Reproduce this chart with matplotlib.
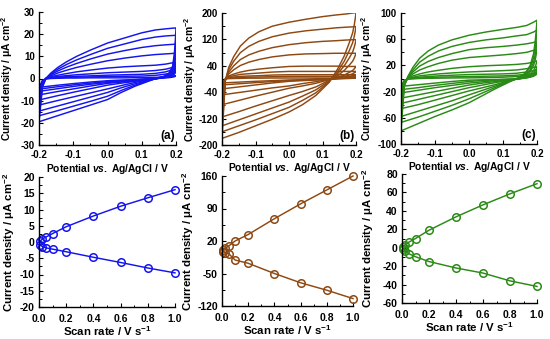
import matplotlib
matplotlib.use("Agg")
import matplotlib.pyplot as plt
import matplotlib.ticker as ticker

plt.rcParams["font.family"] = ["Liberation Sans", "DejaVu Sans"]
plt.rcParams["font.weight"] = "bold"
plt.rcParams["axes.unicode_minus"] = False
plt.rcParams["mathtext.fontset"] = "custom"
plt.rcParams["mathtext.rm"] = "Liberation Sans:bold"
plt.rcParams["mathtext.bf"] = "Liberation Sans:bold"
plt.rcParams["mathtext.it"] = "Liberation Sans:bold:italic"

# scan rates (V/s), one CV loop per rate
SCAN_RATES = [0.01, 0.025, 0.05, 0.1, 0.2, 0.4, 0.6, 0.8, 1.0]

# potentials of the forward (-0.2 -> 0.2) and reverse (0.2 -> -0.2) sweeps
E_FWD = [-0.2, -0.195, -0.19, -0.18, -0.165, -0.145, -0.12, -0.09, -0.05, 0.0,
         0.05, 0.1, 0.14, 0.17, 0.19, 0.2]
E_REV = [0.2, 0.198, 0.195, 0.19, 0.18, 0.165, 0.145, 0.12, 0.08, 0.04, 0.0,
         -0.05, -0.1, -0.15, -0.2]

# (a) CV currents, uA cm-2
CV_A_FWD = [
    [-4.0, -2.5, -0.9, -0.2, 0, 0.1, 0.2, 0.2, 0.3, 0.3, 0.3, 0.4, 0.5, 0.8, 1.1, 1.2],
    [-4.8, -3, -1, -0.1, 0.2, 0.4, 0.5, 0.6, 0.7, 0.9, 1.0, 1.1, 1.4, 2.0, 2.6, 3.0],
    [-5.8, -3.5, -1.2, 0, 0.3, 0.6, 0.8, 1.0, 1.2, 1.5, 1.7, 1.9, 2.3, 3.0, 4.0, 4.5],
    [-7.4, -4.5, -1.5, 0, 0.5, 0.9, 1.3, 1.7, 2.1, 2.6, 2.9, 3.2, 3.6, 4.2, 5.0, 5.5],
    [-9.7, -6, -2, 0, 0.8, 1.5, 2.2, 3.0, 3.8, 4.7, 5.3, 5.7, 6.0, 6.5, 7.1, 7.5],
    [-12, -7.5, -2.5, 0, 1.2, 2.5, 3.7, 5.0, 6.4, 8.0, 9.2, 10.2, 10.8, 11.1, 11.3, 11.5],
    [-14.7, -9, -3, 0, 1.7, 3.4, 5.1, 6.8, 8.8, 11, 12.6, 14.0, 14.8, 15.2, 15.4, 15.5],
    [-16.8, -10.5, -3.5, 0, 2.1, 4.2, 6.3, 8.4, 10.8, 13.6, 15.6, 17.6, 18.7, 19.2, 19.4, 19.5],
    [-19.5, -12, -4, 0, 2.5, 5, 7.5, 10, 12.8, 16, 18.3, 20.6, 21.9, 22.4, 22.7, 22.8],
]
CV_A_REV = [
    [1.2, 1.0, 0.8, 0.6, 0.4, 0.2, 0.0, -0.2, -0.5, -0.7, -1.0, -1.6, -2.3, -3.1, -4.0],
    [3.0, 2.5, 1.9, 1.3, 0.8, 0.4, 0.0, -0.3, -0.6, -1.0, -1.4, -2.1, -2.9, -3.8, -4.8],
    [4.5, 3.5, 2.6, 1.7, 1.0, 0.4, 0.0, -0.3, -0.8, -1.3, -1.8, -2.6, -3.6, -4.7, -5.8],
    [5.5, 4.3, 3.1, 2.0, 1.1, 0.5, 0.0, -0.4, -1.0, -1.6, -2.2, -3.4, -4.7, -6.0, -7.4],
    [7.5, 5.8, 4.1, 2.5, 1.3, 0.6, 0.0, -0.5, -1.3, -2.1, -3.0, -4.6, -6.2, -7.9, -9.7],
    [11.5, 8.5, 5.8, 3.2, 1.6, 0.7, 0.1, -0.7, -1.8, -3.2, -4.7, -6.5, -8.3, -10.1, -12.0],
    [15.5, 11.5, 7.5, 4.0, 1.9, 0.8, 0.1, -0.9, -2.4, -4.2, -6.3, -8.4, -10.5, -12.6, -14.7],
    [19.5, 14.5, 9.5, 4.8, 2.2, 0.9, 0.2, -1.0, -3.0, -5.4, -8.0, -10.3, -12.5, -14.7, -16.8],
    [22.8, 17, 11, 5.5, 2.5, 1.0, 0.2, -1.2, -3.5, -6.3, -9.5, -12.0, -14.5, -17, -19.5],
]

# (b) CV currents
CV_B_FWD = [
    [-12, -6, 0, 1, 1.5, 2, 2.5, 2.5, 3, 3, 3, 3, 3, 3, 3, 3],
    [-18, -9, 1, 3, 4, 5, 5.5, 6, 7, 8, 8, 8, 8, 8, 7.5, 7.5],
    [-30, -15, 1, 4, 6, 8, 9, 10, 12, 13, 13, 13, 13, 13, 13, 13],
    [-48, -25, 0, 6, 10, 14, 16, 18, 21, 23, 23, 23, 23, 23, 23, 23],
    [-78, -40, -1, 9, 15, 21, 26, 30, 34, 38, 39, 39, 39, 38, 38, 38],
    [-115, -55, -2, 15, 28, 41, 51, 59, 67, 73, 76, 77, 78, 78, 78, 78],
    [-142, -70, -3, 21, 40, 59, 73, 84, 95, 104, 110, 114, 116, 118, 119, 119],
    [-160, -80, -4, 28, 54, 80, 99, 114, 128, 139, 146, 151, 155, 157, 158, 159],
    [-180, -90, -5, 35, 68, 100, 124, 143, 160, 172, 181, 189, 194, 197, 200, 201],
]
CV_B_REV = [
    [3, 2.8, 2.6, 2.2, 1.6, 1, 0.4, -1, -1.5, -2.2, -3, -5, -7, -9.5, -12],
    [7.5, 7, 6.5, 5.5, 4, 2.5, 1, -1, -2, -3.5, -5, -8, -11, -14.5, -18],
    [13, 12, 11, 9, 7, 4, 2, -1, -3, -5, -7, -12, -18, -24, -30],
    [23, 21, 19, 16, 12, 7, 3, -1, -8, -14, -21, -27, -34, -41, -48],
    [38, 35, 31, 26, 20, 12, 5, -2, -13, -21, -28, -40, -52, -65, -78],
    [78, 72, 64, 54, 42, 26, 10, -4, -24, -38, -50, -66, -82, -99, -115],
    [119, 109, 97, 82, 64, 40, 16, -6, -33, -52, -70, -88, -106, -124, -142],
    [159, 146, 130, 110, 86, 54, 22, -8, -42, -65, -86, -105, -124, -142, -160],
    [201, 185, 165, 140, 110, 70, 30, -10, -50, -78, -100, -122, -142, -162, -180],
]

# (c) CV currents
CV_C_FWD = [
    [-12, -7, -2.5, -1, -0.5, 0, 0.3, 0.5, 0.8, 1, 1.3, 2, 3, 4.5, 6, 7],
    [-17, -10, -3, -1, 0, 0.7, 1.3, 2, 2.5, 3, 3.5, 4, 5, 6.5, 8, 9],
    [-22, -13, -4, -0.5, 1, 2, 3, 4, 5, 6, 6.5, 7, 8, 10, 12, 13],
    [-30, -17, -5, 0, 2, 4, 5.5, 7, 8.5, 10, 11, 12, 13, 15, 17, 18],
    [-38, -22, -7, 0, 4, 7, 10, 12.5, 15.5, 18, 19.5, 20.5, 21.5, 23, 25, 27],
    [-46, -27, -8, 1, 7, 13, 18, 23, 28, 32, 34, 36, 38, 40, 43, 45],
    [-58, -33, -9, 1.5, 10, 19, 26, 32, 38, 44, 47, 49, 51, 53, 55, 57],
    [-67, -38, -10, 2, 13, 25, 34, 42, 49, 55, 59, 62, 65, 67, 71, 74],
    [-80, -45, -12, 3, 17, 31, 42, 51, 59, 66, 71, 75, 78, 81, 86, 89],
]
CV_C_REV = [
    [7, 6, 5, 3.5, 2, 0.5, -0.5, -1, -1.5, -2, -2.5, -4.5, -7, -9.5, -12],
    [9, 8, 6.5, 4.5, 2.5, 0.8, -0.5, -1, -2, -3, -4.5, -7.5, -10.5, -14, -17],
    [13, 11, 9, 6, 3, 1, -0.5, -1.5, -3, -5, -7, -10.5, -14, -18, -22],
    [18, 15, 12, 8, 4, 1.5, -0.5, -2, -4.5, -7, -10, -15, -20, -25, -30],
    [27, 23, 18, 12, 6, 2, -0.5, -3, -6, -10, -14, -20, -26, -32, -38],
    [45, 38, 29, 20, 10, 4, 0, -3, -9, -14, -19, -26, -33, -40, -46],
    [57, 48, 37, 25, 13, 5, 0, -4, -11, -18, -25, -34, -42, -50, -58],
    [74, 62, 48, 32, 17, 7, 1, -4, -13, -22, -31, -41, -50, -59, -67],
    [89, 75, 58, 38, 20, 8, 1, -5, -15, -26, -37, -48, -58, -69, -80],
]

# current density vs scan rate (anodic / cathodic)
JA_OX = [0.3, 0.9, 1.5, 2.6, 4.7, 8.0, 11.0, 13.6, 16.1]
JA_RED = [-1.0, -1.4, -1.8, -2.2, -3.0, -4.7, -6.3, -8.0, -9.5]
JB_OX = [1, 4, 9, 20, 34, 68, 100, 130, 160]
JB_RED = [-3, -5, -7, -21, -28, -50, -70, -86, -104]
JC_OX = [1, 3, 6, 10, 19, 33.5, 46.5, 58.5, 69.5]
JC_RED = [-1.5, -4, -6.5, -9.8, -15, -22, -27.5, -36, -42]

COLORS = {"a": "#1414ee", "b": "#8e4812", "c": "#2a8a16"}

YLABEL = "Current density / μA cm$^{-2}$"
XLABEL_CV = "Potential $\\it{vs.}$ Ag/AgCl / V"
XLABEL_SR = "Scan rate / V s$^{-1}$"


def style_axis(ax, ylim, ymajor, yminor, xlim, xmajor, xminor, tick_fs, xpad):
    ax.spines["top"].set_visible(False)
    ax.spines["right"].set_visible(False)
    for s in ("left", "bottom"):
        ax.spines[s].set_linewidth(1.0)
    ax.set_ylim(*ylim)
    ax.set_xlim(*xlim)
    ax.yaxis.set_major_locator(ticker.MultipleLocator(ymajor, offset=ylim[0] % ymajor))
    ax.yaxis.set_minor_locator(ticker.MultipleLocator(yminor, offset=ylim[0] % yminor))
    ax.xaxis.set_major_locator(ticker.MultipleLocator(xmajor))
    ax.xaxis.set_minor_locator(ticker.MultipleLocator(xminor))
    ax.xaxis.set_major_formatter(ticker.FormatStrFormatter("%.1f"))
    ax.yaxis.set_major_formatter(ticker.FormatStrFormatter("%d"))
    ax.tick_params(which="major", direction="in", length=3, width=0.8,
                   labelsize=tick_fs)
    ax.tick_params(axis="x", which="major", pad=xpad)
    ax.tick_params(axis="y", which="major", pad=3.0)
    ax.tick_params(which="minor", direction="in", length=1.8, width=0.7)
    for lab in ax.get_xticklabels() + ax.get_yticklabels():
        lab.set_fontweight("bold")


def plot_cv(ax, fwd, rev, color, tag, ylim, ymajor, yminor):
    for jf, jr in zip(fwd, rev):
        ax.plot(E_FWD + E_REV, jf + jr, color=color, linewidth=1.05,
                solid_joinstyle="round")
    style_axis(ax, ylim, ymajor, yminor, (-0.2, 0.2), 0.1, 0.05, 7, 3.6)
    ax.text(0.99, 0.02, tag, transform=ax.transAxes, ha="right", va="bottom",
            fontsize=8.5, fontweight="bold")
    ax.set_xlabel(XLABEL_CV, fontsize=7.4, fontweight="bold")
    ax.set_ylabel(YLABEL, fontsize=7.4, fontweight="bold")
    ax.xaxis.set_label_coords(0.5, -0.125)


def plot_rate(ax, ox, red, color, ylim, ymajor, yminor):
    for j in (ox, red):
        ax.plot(SCAN_RATES, j, color=color, linewidth=1.05, marker="o",
                markersize=5.4, markerfacecolor="none", markeredgewidth=1.1,
                clip_on=False)
    style_axis(ax, ylim, ymajor, yminor, (0.0, 1.0), 0.2, 0.1, 7.5, 5.0)
    ax.set_xlabel(XLABEL_SR, fontsize=8.2, fontweight="bold")
    ax.set_ylabel(YLABEL, fontsize=8.2, fontweight="bold")
    ax.xaxis.set_label_coords(0.5, -0.135)


fig = plt.figure(figsize=(5.5, 3.39), dpi=100)
W, H = 550.0, 339.0


def box(l, t, r, b):
    return [l / W, 1 - b / H, (r - l) / W, (b - t) / H]


ax_a = fig.add_axes(box(39, 12, 176, 145))
ax_b = fig.add_axes(box(222, 13, 356, 145))
ax_c = fig.add_axes(box(401, 13, 537, 144))
ax_d = fig.add_axes(box(39, 177, 175, 307))
ax_e = fig.add_axes(box(222, 176, 353, 306))
ax_f = fig.add_axes(box(402, 174, 537, 303))

plot_cv(ax_a, CV_A_FWD, CV_A_REV, COLORS["a"], "(a)", (-30, 30), 10, 5)
plot_cv(ax_b, CV_B_FWD, CV_B_REV, COLORS["b"], "(b)", (-200, 200), 80, 40)
plot_cv(ax_c, CV_C_FWD, CV_C_REV, COLORS["c"], "(c)", (-100, 100), 40, 20)
plot_rate(ax_d, JA_OX, JA_RED, COLORS["a"], (-20, 20), 5, 2.5)
plot_rate(ax_e, JB_OX, JB_RED, COLORS["b"], (-120, 160), 70, 35)
plot_rate(ax_f, JC_OX, JC_RED, COLORS["c"], (-60, 80), 20, 10)

# y label positions (axes coordinates, anchored at the label's right edge)
ax_a.yaxis.set_label_coords(-0.175, 0.5)
ax_b.yaxis.set_label_coords(-0.182, 0.5)
ax_c.yaxis.set_label_coords(-0.191, 0.5)
ax_d.yaxis.set_label_coords(-0.165, 0.5)
ax_e.yaxis.set_label_coords(-0.2, 0.5)
ax_f.yaxis.set_label_coords(-0.19, 0.5)

fig.savefig("out.png", dpi=100)
